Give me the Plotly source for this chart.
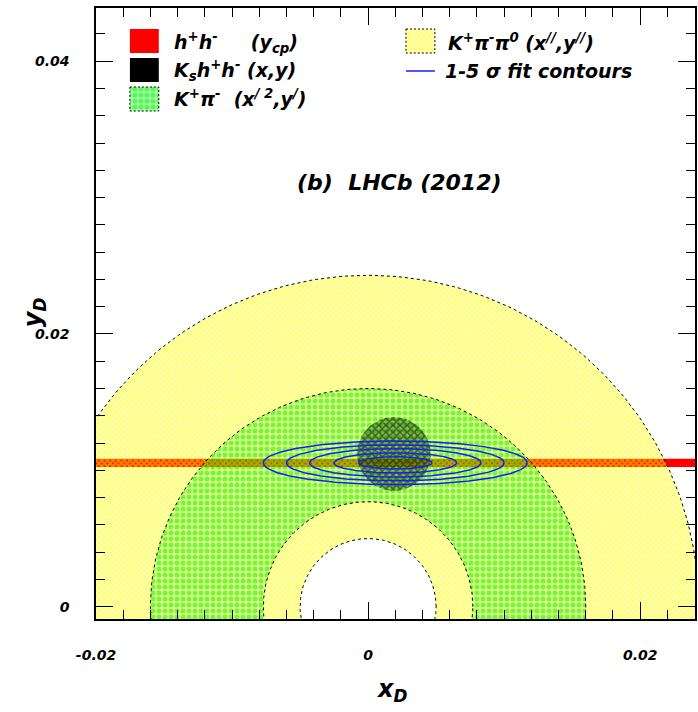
import numpy as np
import plotly.graph_objects as go

# ---- measured regions in the (x_D, y_D) plane ----
# h+h- : y_CP band (central value, half width)
ycp_value = [0.01055]
ycp_halfwidth = [0.0003]

# K+pi-pi0 : annulus around the origin (inner, outer radius)
kpipi0_radii = [0.0050, 0.0243]

# K+pi- : annulus around the origin (inner, outer radius)
kpi_radii = [0.0077, 0.0160]

# Ks h+h- : disc (centre x, centre y, radius)
kshh_disc = [0.0019, 0.0112, 0.0027]

# combined fit: centre and 1..5 sigma contour semi-axes
fit_centre = [0.0020, 0.01055]
contour_sigma = [1, 2, 3, 4, 5]
contour_a = [0.0027, 0.0045, 0.0063, 0.0080, 0.0097]
contour_b = [0.00045, 0.00074, 0.00104, 0.00132, 0.0016]

# axis tick labels
x_ticks = [-0.02, 0, 0.02]
x_ticklabels = ["-0.02", "0", "0.02"]
y_ticks = [0, 0.02, 0.04]
y_ticklabels = ["0", "0.02", "0.04"]

X_RANGE = [-0.02, 0.02403]
Y_RANGE = [-0.0009, 0.0439]

# figure geometry (pixels)
W, H = 698, 712
ML, MR, MT, MB = 96, 1, 8, 93
PW, PH = W - ML - MR, H - MT - MB


def px(xp):
    return (xp - ML) / PW


def py(yp):
    return (H - MB - yp) / PH


def circle(cx, cy, rx, ry=None, n=361, reverse=False):
    ry = rx if ry is None else ry
    t = np.linspace(0, 2 * np.pi, n)
    if reverse:
        t = t[::-1]
    return cx + rx * np.cos(t), cy + ry * np.sin(t)


def ring(r_in, r_out):
    xo, yo = circle(0, 0, r_out)
    xi, yi = circle(0, 0, r_in, reverse=True)
    return np.concatenate([xo, xi]), np.concatenate([yo, yi])


CLEAR = "rgba(0,0,0,0)"
YELLOW_PAT = dict(shape="x", fgcolor="#ffff00", bgcolor=CLEAR, size=4, solidity=0.8)
GREEN_PAT = dict(shape=".", fgcolor="#00f000", bgcolor="rgba(40,240,0,0.12)", size=6, solidity=0.55)
BLACK_PAT = dict(shape="x", fgcolor="#101000", bgcolor="rgba(0,70,0,0.35)", size=5, solidity=0.55)
BLUE = "#1a1aff"

fig = go.Figure()

# y_CP band across the whole plot
yc, hw = ycp_value[0], ycp_halfwidth[0]
fig.add_trace(go.Scatter(
    x=[X_RANGE[0] - 0.01, X_RANGE[1] + 0.01, X_RANGE[1] + 0.01, X_RANGE[0] - 0.01],
    y=[yc - hw, yc - hw, yc + hw, yc + hw],
    fill="toself", fillcolor="#ff0000", mode="lines", line=dict(width=0),
    hoverinfo="skip", showlegend=False))

# K+pi-pi0 annulus
rx, ry = ring(*kpipi0_radii)
fig.add_trace(go.Scatter(x=rx, y=ry, fill="toself", fillcolor=CLEAR, fillpattern=YELLOW_PAT,
                         mode="lines", line=dict(width=0), hoverinfo="skip", showlegend=False))

# K+pi- annulus
rx, ry = ring(*kpi_radii)
fig.add_trace(go.Scatter(x=rx, y=ry, fill="toself", fillcolor=CLEAR, fillpattern=GREEN_PAT,
                         mode="lines", line=dict(width=0), hoverinfo="skip", showlegend=False))

# dashed borders of the annuli
for r in kpipi0_radii + kpi_radii:
    bx, by = circle(0, 0, r)
    fig.add_trace(go.Scatter(x=bx, y=by, mode="lines",
                             line=dict(color="black", width=1, dash="3px,3px"),
                             hoverinfo="skip", showlegend=False))

# Ks h+h- disc
dx, dy = circle(kshh_disc[0], kshh_disc[1], kshh_disc[2])
fig.add_trace(go.Scatter(x=dx, y=dy, fill="toself", fillcolor=CLEAR, fillpattern=BLACK_PAT,
                         mode="lines", line=dict(width=0), hoverinfo="skip", showlegend=False))

# 1-5 sigma fit contours
for s, a, b in zip(contour_sigma, contour_a, contour_b):
    ex, ey = circle(fit_centre[0], fit_centre[1], a, b)
    fig.add_trace(go.Scatter(x=ex, y=ey, mode="lines", line=dict(color=BLUE, width=1.5),
                             name=f"{s} sigma", hoverinfo="skip", showlegend=False))

# ---- legend keys on an overlay axis spanning the plot area ----
def key_box(x0, x1, y0, y1, **kw):
    fig.add_trace(go.Scatter(x=[px(x0), px(x1), px(x1), px(x0), px(x0)],
                             y=[py(y0), py(y0), py(y1), py(y1), py(y0)],
                             xaxis="x2", yaxis="y2", fill="toself", mode="lines",
                             hoverinfo="skip", showlegend=False, **kw))


key_box(130, 159, 29, 53, fillcolor="#ff0000", line=dict(width=0))
key_box(130, 159, 58, 82, fillcolor="#000000", line=dict(width=0))
key_box(130, 159, 87, 111, fillcolor="white",
        fillpattern=dict(shape=".", fgcolor="#00f000", bgcolor="rgba(120,255,120,0.6)", size=6, solidity=0.6),
        line=dict(color="black", width=1, dash="2px,2px"))
key_box(407, 436, 29, 53, fillcolor="white", fillpattern=YELLOW_PAT,
        line=dict(color="black", width=1, dash="2px,2px"))
fig.add_trace(go.Scatter(x=[px(407), px(436)], y=[py(71), py(71)], xaxis="x2", yaxis="y2",
                         mode="lines", line=dict(color=BLUE, width=1.5),
                         hoverinfo="skip", showlegend=False))

FONT = "DejaVu Sans, Verdana, sans-serif"


def label(text, xp, yp, size=19, xanchor="left", angle=0):
    fig.add_annotation(x=px(xp), y=py(yp), xref="paper", yref="paper", text=text,
                       showarrow=False, xanchor=xanchor, yanchor="middle", textangle=angle,
                       font=dict(family=FONT, size=size, color="black",
                                 weight="bold", style="italic"))


label("h<sup>+</sup>h<sup>-</sup>     (y<sub>cp</sub>)", 172, 42)
label("K<sub>s</sub>h<sup>+</sup>h<sup>-</sup> (x,y)", 172, 70)
label("K<sup>+</sup>π<sup>-</sup>  (x<sup>/ 2</sup>,y<sup>/</sup>)", 172, 98)
label("K<sup>+</sup>π<sup>-</sup>π<sup>0</sup> (x<sup>//</sup>,y<sup>//</sup>)", 447, 42)
label("1-5 σ fit contours", 444, 71)
label("(b)  LHCb (2012)", 401, 182, size=22, xanchor="center")
label("x<sub>D</sub>", 393, 690, size=24, xanchor="center")
label("y<sub>D</sub>", 34, 312, size=24, xanchor="center", angle=-90)

tickfont = dict(family=FONT, size=14, color="black", weight="bold", style="italic")
axis_common = dict(showgrid=False, zeroline=False, showline=True, linecolor="black",
                   linewidth=1.5, mirror="allticks", ticks="inside", ticklen=17,
                   tickwidth=1, tickcolor="black", tickfont=tickfont,
                   ticklabelstandoff=22)

fig.update_layout(
    width=W, height=H,
    margin=dict(l=ML, r=MR, t=MT, b=MB),
    paper_bgcolor="white", plot_bgcolor="white",
    xaxis=dict(range=X_RANGE, tickmode="array", tickvals=x_ticks, ticktext=x_ticklabels,
               minor=dict(tickmode="linear", tick0=0, dtick=0.002, ticklen=9,
                          ticks="inside", tickcolor="black"),
               **axis_common),
    yaxis=dict(range=Y_RANGE, tickmode="array", tickvals=y_ticks, ticktext=y_ticklabels,
               minor=dict(tickmode="linear", tick0=0, dtick=0.002, ticklen=9,
                          ticks="inside", tickcolor="black"),
               **axis_common),
    xaxis2=dict(overlaying="x", range=[0, 1], visible=False, fixedrange=True),
    yaxis2=dict(overlaying="y", range=[0, 1], visible=False, fixedrange=True),
    showlegend=False,
)

fig.write_html("out.html")
